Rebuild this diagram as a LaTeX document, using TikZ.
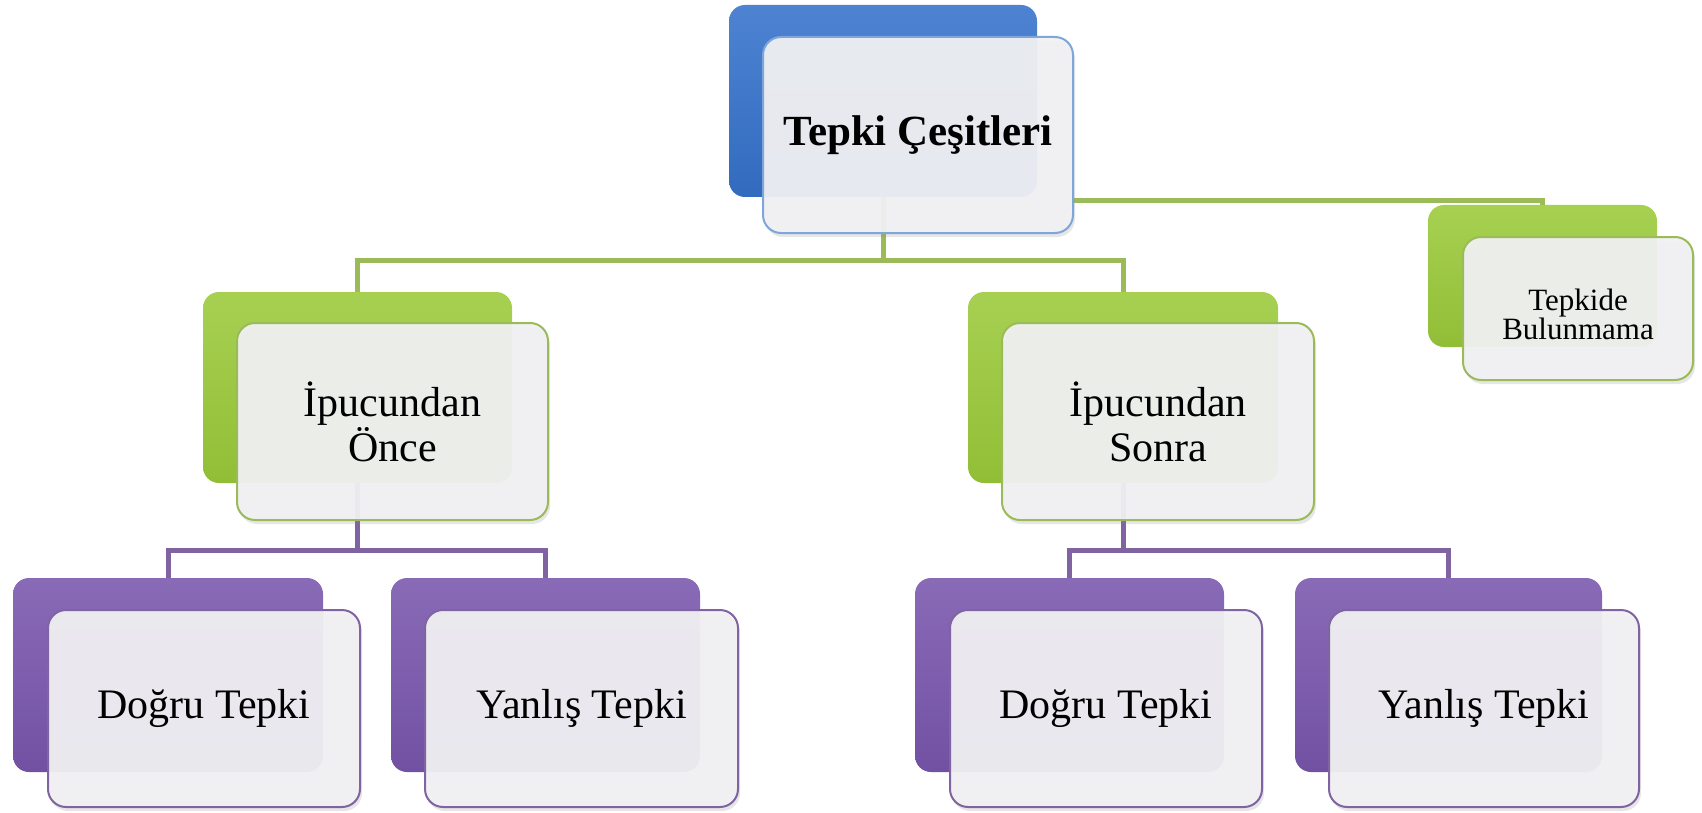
\documentclass[tikz,border=0pt]{standalone}
\usepackage{fontspec}
\setmainfont{Liberation Serif}
\usetikzlibrary{shadows}
\definecolor{bluemain}{HTML}{3572CB}
\definecolor{blueline}{HTML}{7FA6D8}
\definecolor{greenmain}{HTML}{9BCA3A}
\definecolor{greenline}{HTML}{9BBB59}
\definecolor{purpmain}{HTML}{7956AD}
\definecolor{purpline}{HTML}{8064A2}
\definecolor{frontfill}{HTML}{F1F1F3}
\tikzset{
  backbox/.style={rounded corners=16pt, inner sep=0pt, draw=none},
  bblue/.style={backbox, top color=bluemain!88!white, middle color=bluemain, bottom color=bluemain!94!black},
  bgreen/.style={backbox, top color=greenmain!88!white, middle color=greenmain, bottom color=greenmain!94!black},
  bpurp/.style={backbox, top color=purpmain!88!white, middle color=purpmain, bottom color=purpmain!94!black},
  frontbox/.style={rounded corners=18pt, inner sep=0pt, fill=frontfill, fill opacity=0.94, text opacity=1,
     line width=2pt, align=center, font=\fontsize{42}{45}\selectfont,
     drop shadow={shadow xshift=2pt, shadow yshift=-4pt, opacity=0.2}},
  conn/.style={line width=5pt},
}
\begin{document}
\begin{tikzpicture}[x=1pt,y=-1pt]
\useasboundingbox (0,0) rectangle (1702,813);
% back boxes (used for connectors)
\node[bblue, minimum width=308pt, minimum height=192pt] (root_b) at (883,101) {};
\node[bgreen, minimum width=309pt, minimum height=191pt] (ipo_b) at (357.5,387.5) {};
\node[bgreen, minimum width=310pt, minimum height=191pt] (ips_b) at (1123,387.5) {};
\node[bgreen, minimum width=229pt, minimum height=142pt] (bul_b) at (1542.5,276) {};
\node[bpurp, minimum width=310pt, minimum height=194pt] (d1_b) at (168,675) {};
\node[bpurp, minimum width=309pt, minimum height=194pt] (y1_b) at (545.5,675) {};
\node[bpurp, minimum width=309pt, minimum height=194pt] (d2_b) at (1069.5,675) {};
\node[bpurp, minimum width=307pt, minimum height=194pt] (y2_b) at (1448.5,675) {};
% connectors
\draw[conn, greenline] (root_b.south) -- (root_b.south |- 0,260) -| (ipo_b.north);
\draw[conn, greenline] (root_b.south |- 0,260) -| (ips_b.north);
\draw[conn, greenline] (1073,201) -| (bul_b.north);
\draw[conn, purpline] (ipo_b.south) -- (ipo_b.south |- 0,550) -| (d1_b.north);
\draw[conn, purpline] (ipo_b.south |- 0,550) -| (y1_b.north);
\draw[conn, purpline] (ips_b.south) -- (ips_b.south |- 0,550) -| (d2_b.north);
\draw[conn, purpline] (ips_b.south |- 0,550) -| (y2_b.north);
% front boxes
\node[frontbox, draw=blueline, minimum width=310pt, minimum height=196pt,
      font=\fontsize{43}{46}\selectfont\bfseries] (root) at (918,135) {Tepki Çeşitleri};
\node[frontbox, draw=greenline, minimum width=311pt, minimum height=197pt] (ipo) at (392.5,421.5) {İpucundan\\Önce};
\node[frontbox, draw=greenline, minimum width=312pt, minimum height=197pt] (ips) at (1158,421.5) {İpucundan\\Sonra};
\node[frontbox, draw=greenline, minimum width=230pt, minimum height=143pt] (bul) at (1578,308.5) {};
\node[align=center, font=\fontsize{31}{27}\selectfont, inner sep=0pt] (bul_t) at ([yshift=-6pt]bul.center) {Tepkide\\Bulunmama};
\node[frontbox, draw=purpline, minimum width=312pt, minimum height=197pt] (d1) at (204,708.5) {Doğru Tepki};
\node[frontbox, draw=purpline, minimum width=313pt, minimum height=197pt] (y1) at (581.5,708.5) {Yanlış Tepki};
\node[frontbox, draw=purpline, minimum width=312pt, minimum height=197pt] (d2) at (1106,708.5) {Doğru Tepki};
\node[frontbox, draw=purpline, minimum width=310pt, minimum height=197pt] (y2) at (1484,708.5) {Yanlış Tepki};
\end{tikzpicture}
\end{document}
